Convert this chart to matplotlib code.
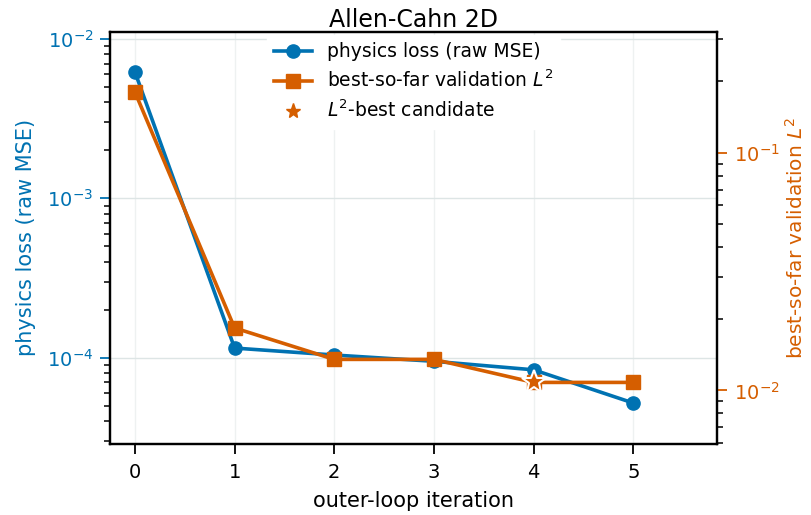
import numpy as np
import matplotlib.pyplot as plt
from matplotlib.lines import Line2D

BLUE = '#0072B2'
ORANGE = '#D55E00'

iters = [0, 1, 2, 3, 4, 5]
physics_loss = [6.2e-3, 1.15e-4, 1.04e-4, 9.5e-5, 8.4e-5, 5.2e-5]
best_val_l2 = [0.180, 0.0183, 0.0135, 0.0135, 0.0108, 0.0108]
best_iter = 4
best_l2 = 0.0108


def main():
    fig = plt.figure(figsize=(8.12, 5.15), dpi=100)
    ax1 = fig.add_axes([0.1355, 0.138, 0.7475, 0.800])
    ax2 = ax1.twinx()

    ax1.plot(iters, physics_loss, color=BLUE, marker='o', ms=9.5, lw=2.6)
    ax2.plot(iters, best_val_l2, color=ORANGE, marker='s', ms=9.5, lw=2.6)
    ax2.plot([best_iter], [best_l2], ls='none', marker='*', ms=18,
             color=ORANGE, mec='white', mew=1.5)

    ax1.set_yscale('log')
    ax2.set_yscale('log')
    ax1.set_ylim(2.88e-5, 1.106e-2)
    ax2.set_ylim(5.95e-3, 0.3224)
    ax1.set_xlim(-0.25, 5.84)
    ax1.set_xticks(iters)

    ax1.grid(True, axis='y', which='major', color='#dde5e5', lw=1.0)
    ax1.grid(True, axis='x', which='major', color='#eef1f1', lw=1.0)
    ax1.set_axisbelow(True)

    ax1.tick_params(axis='y', which='major', colors=BLUE, labelsize=14, length=7, width=1.3, pad=5)
    ax1.tick_params(axis='y', which='minor', length=4, width=1.1)
    ax2.tick_params(axis='y', which='major', colors=ORANGE, labelsize=14, length=7, width=1.3, pad=5)
    ax2.tick_params(axis='y', which='minor', length=4, width=1.1)
    ax1.tick_params(axis='x', labelsize=14, length=7, width=1.3, pad=7)

    for ax in (ax1, ax2):
        for sp in ax.spines.values():
            sp.set_linewidth(1.6)

    ax1.set_xlabel('outer-loop iteration', fontsize=15, labelpad=6)
    ax1.set_ylabel('physics loss (raw MSE)', color=BLUE, fontsize=15, labelpad=8)
    ax2.set_ylabel('best-so-far validation $L^2$', color=ORANGE, fontsize=14.5, labelpad=4)
    ax1.set_title('Allen-Cahn 2D', fontsize=17, pad=2)

    handles = [
        Line2D([], [], color=BLUE, marker='o', ms=9.5, lw=2.6),
        Line2D([], [], color=ORANGE, marker='s', ms=9.5, lw=2.6),
        Line2D([], [], color=ORANGE, marker='*', ms=11, ls='none'),
    ]
    labels = ['physics loss (raw MSE)', 'best-so-far validation $L^2$',
              '$L^2$-best candidate']
    ax2.legend(handles, labels, loc='upper center', fontsize=13.5,
               framealpha=1, edgecolor='white', fancybox=False,
               borderaxespad=0.15, handlelength=2.0, labelspacing=0.45,
               bbox_to_anchor=(0.5, 1.0))

    fig.savefig('out.png')
    plt.close(fig)


if __name__ == '__main__':
    main()
